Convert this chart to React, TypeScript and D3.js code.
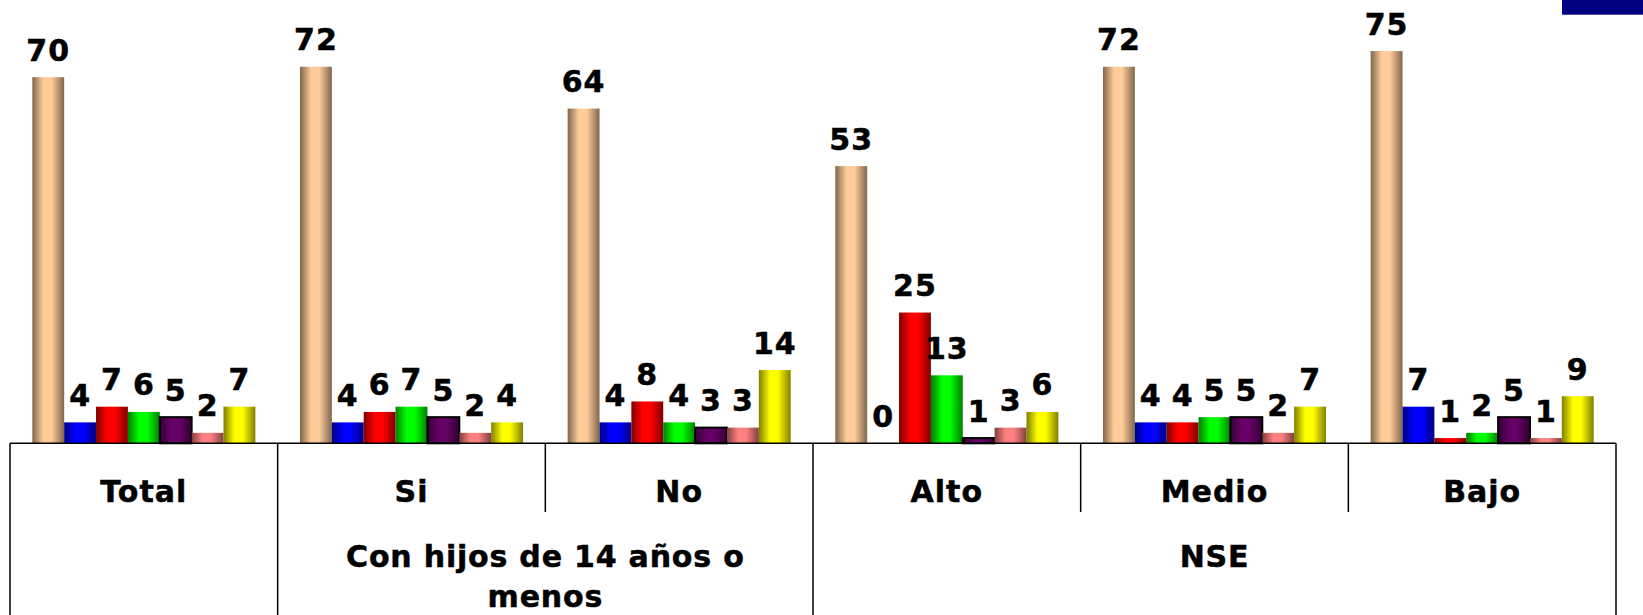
import React from "react";
import * as d3 from "d3";

const categories = ["Total", "Si", "No", "Alto", "Medio", "Bajo"];
const groups = [
  { label: ["Con hijos de 14 años o", "menos"], from: 1, to: 2 },
  { label: ["NSE"], from: 3, to: 5 },
];
const seriesNames = ["s1", "s2", "s3", "s4", "s5", "s6", "s7"];
const s1 = [70, 72, 64, 53, 72, 75];
const s2 = [4, 4, 4, 0, 4, 7];
const s3 = [7, 6, 8, 25, 4, 1];
const s4 = [6, 7, 4, 13, 5, 2];
const s5 = [5, 5, 3, 1, 5, 5];
const s6 = [2, 2, 3, 3, 2, 1];
const s7 = [7, 4, 14, 6, 7, 9];
const seriesValues = [s1, s2, s3, s4, s5, s6, s7];
const seriesColors = ["#FFCC99", "#0000FF", "#FF0000", "#00FF00", "#660066", "#FF8080", "#FFFF00"];

const W = 1643;
const H = 615;
const baseY = 443.3;
const left = 10;
const right = 1616;
const FONT = "'DejaVu Sans', Verdana, sans-serif";

export default function App() {
  const x = d3.scaleBand<string>().domain(categories).range([left, right]).padding(0);
  const xs = d3
    .scaleBand<string>()
    .domain(seriesNames)
    .range([0, x.bandwidth()])
    .paddingInner(0)
    .paddingOuter(0.7);
  const y = d3.scaleLinear().domain([0, 85]).range([baseY, baseY - 85 * 5.23]);

  const dark = (c: string, k: number) => {
    const col = d3.rgb(c);
    return d3.rgb(col.r * k, col.g * k, col.b * k).formatHex();
  };

  const boundaries = d3.range(categories.length + 1).map((i) => left + i * x.step());
  const fullDividers = new Set<number>([0, 1, 3, 6]);

  const textProps = {
    fontSize: 30,
    fontWeight: "bold" as const,
    fill: "#000",
    stroke: "#000",
    strokeWidth: 0.5,
  };

  return (
    <svg
      width={W}
      height={H}
      style={{ position: "absolute", left: 0, top: 0, background: "#fff" }}
      fontFamily={FONT}
    >
      <defs>
        {seriesColors.map((c, i) => (
          <linearGradient key={i} id={`g${i}`} x1="0" x2="1" y1="0" y2="0">
            <stop offset="0%" stopColor={dark(c, 0.5)} />
            <stop offset="35%" stopColor={c} />
            <stop offset="60%" stopColor={c} />
            <stop offset="100%" stopColor={dark(c, 0.5)} />
          </linearGradient>
        ))}
      </defs>
      <rect x={1562} y={0} width={81} height={14.7} fill="#000080" />
      {categories.map((cat, ci) => (
        <g key={cat} transform={`translate(${x(cat)},0)`}>
          {seriesNames.map((s, si) => {
            const v = seriesValues[si][ci];
            const bx = xs(s)!;
            const top = y(v);
            return (
              <g key={s}>
                <rect
                  x={bx}
                  y={top}
                  width={xs.bandwidth()}
                  height={baseY - top}
                  fill={`url(#g${si})`}
                  stroke={si === 4 ? "#000" : "none"}
                  strokeWidth={si === 4 ? 2 : 0}
                />
                <text
                  x={bx + xs.bandwidth() / 2}
                  y={top - 16.5}
                  textAnchor="middle"
                  letterSpacing={1}
                  {...textProps}
                >
                  {v}
                </text>
              </g>
            );
          })}
          <text
            x={x.bandwidth() / 2}
            y={502}
            textAnchor="middle"
            letterSpacing={1}
            {...textProps}
          >
            {cat}
          </text>
        </g>
      ))}
      <line x1={left} x2={right} y1={baseY} y2={baseY} stroke="#000" strokeWidth={1.5} />
      {boundaries.map((bx, i) => (
        <line
          key={i}
          x1={bx}
          x2={bx}
          y1={baseY}
          y2={fullDividers.has(i) ? H : 512}
          stroke="#000"
          strokeWidth={1.5}
        />
      ))}
      {groups.map((g, gi) => {
        const gx0 = x(categories[g.from])!;
        const gx1 = x(categories[g.to])! + x.bandwidth();
        return (
          <text
            key={gi}
            x={(gx0 + gx1) / 2}
            y={567}
            textAnchor="middle"
            letterSpacing={0.8}
            {...textProps}
          >
            {g.label.map((l, li) => (
              <tspan key={li} x={(gx0 + gx1) / 2} dy={li === 0 ? 0 : 40}>
                {l}
              </tspan>
            ))}
          </text>
        );
      })}
    </svg>
  );
}
